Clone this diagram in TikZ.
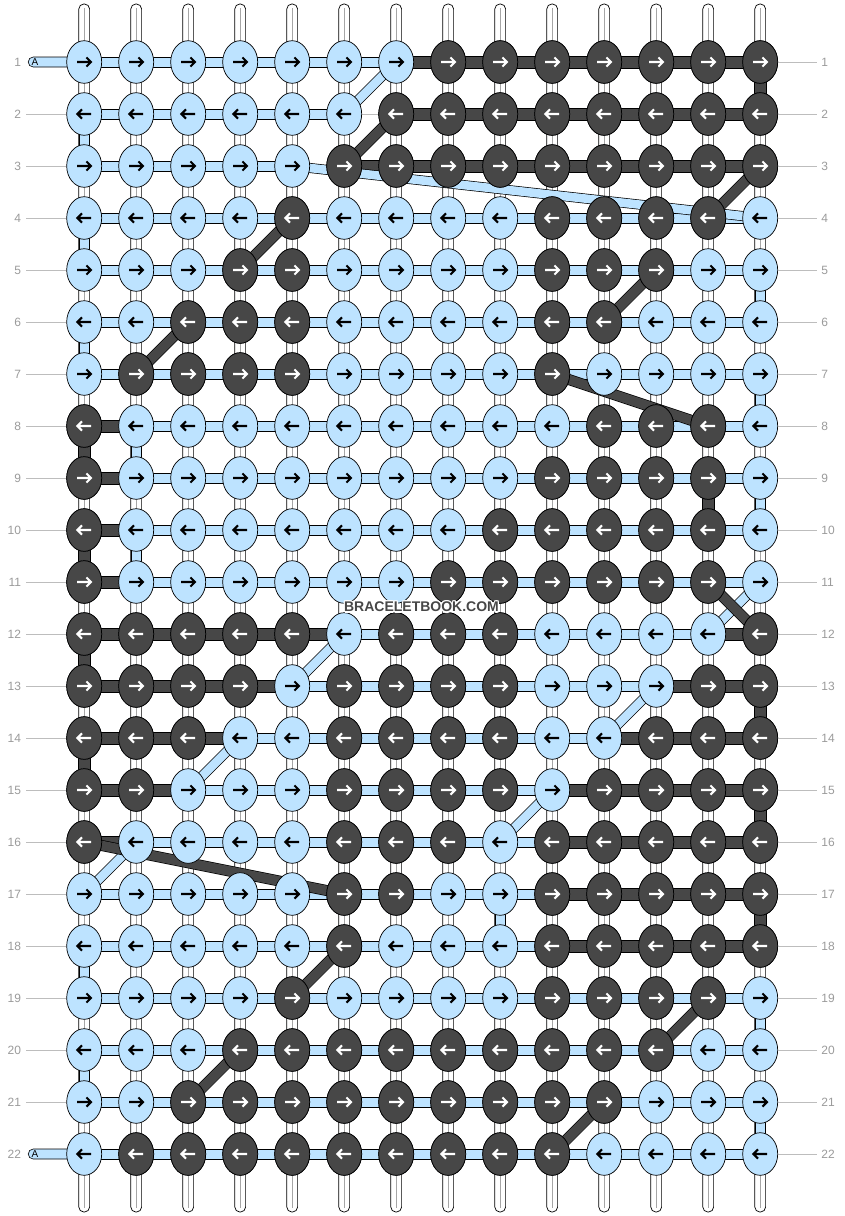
\documentclass[tikz,border=0pt]{standalone}
\usepackage{fontspec}
\setmainfont{Liberation Sans}
\usetikzlibrary{calc,shapes.geometric}
\definecolor{lb}{HTML}{BDE3FF}
\definecolor{dk}{HTML}{474747}
\definecolor{lbltxt}{HTML}{9B9B9B}
\definecolor{glin}{HTML}{BDBDBD}
\tikzset{
  ra/.pic={\draw[line width=2.1pt, line join=miter] (-7,0) -- (6,0) (2.2,-4.6) -- (6.8,0) -- (2.2,4.6);},
  la/.pic={\draw[line width=2.1pt, line join=miter] (7,0) -- (-6,0) (-2.2,-4.6) -- (-6.8,0) -- (-2.2,4.6);},
}
\begin{document}
\begin{tikzpicture}[x=1pt,y=-1pt,
  warp/.style={draw=black, line width=0.7pt, fill=white, rounded corners=5pt},
  lseg/.style={draw=black, line width=0.6pt, fill=lb},
  dseg/.style={draw=black, line width=0.6pt, fill=dk},
  knotL/.style={ellipse, draw=black, line width=0.7pt, fill=lb, minimum width=35pt, minimum height=42.6pt, inner sep=0pt},
  knotD/.style={knotL, fill=dk},
  gline/.style={draw=glin, line width=1pt},
  lab/.style={font=\fontsize{12}{12}\selectfont, text=lbltxt, inner sep=0pt},
  wmtext/.style={font=\bfseries\fontsize{14}{14}\selectfont, inner sep=0pt},
]
\useasboundingbox (0,0) rectangle (844,1216);
\fill[white] (0,0) rectangle (844,1216);

% knot positions
\foreach \r in {1,...,22} {
  \foreach \c in {1,...,14} {
    \coordinate (p-\r-\c) at ({84.2+52*(\c-1)},{62+52*(\r-1)});
  }
}

% warp strings
\foreach \c in {1,...,14} {
  \path[warp] ($(p-1-\c)+(-5.4,-58)$) rectangle ($(p-22-\c)+(5.4,58)$);
  \draw[black!35, line width=0.9pt] ($(p-1-\c)+(0,-54)$) -- ($(p-22-\c)+(0,54)$);
}

% light row segments
\foreach \r in {1,...,22} {
  \foreach \c in {1,...,13} {
    \pgfmathtruncatemacro\nc{\c+1}
    \pgfmathtruncatemacro\skp{and(\r==2,\c==6)+and(\r==3,\c==5)}
    \ifnum\skp=0
      \path[lseg] ($(p-\r-\c)+(0,-5.2)$) rectangle ($(p-\r-\nc)+(0,5.2)$);
    \fi
  }
}
\draw[gline] (p-2-6) -- (p-2-7);

% dark row segments
\foreach \r/\cs in {1/{7,...,13},2/{7,...,13},3/{6,...,13},8/{1},9/{1},10/{1},11/{1},
  12/{1,2,3,4,5,13},13/{1,2,3,4,12,13},14/{1,2,3,11,12,13},15/{1,2,10,11,12,13},
  16/{1,10,11,12,13},17/{10,11,12,13},18/{10,11,12,13}} {
  \foreach \c in \cs {
    \pgfmathtruncatemacro\nc{\c+1}
    \path[dseg] ($(p-\r-\c)+(0,-6)$) rectangle ($(p-\r-\nc)+(0,6)$);
  }
}

% vertical connectors
\foreach \c/\r in {1/2,1/4,1/6,1/18,1/20,2/8,2/10,14/5,14/7,14/9,14/19,14/21,9/17} {
  \pgfmathtruncatemacro\nr{\r+1}
  \path[lseg] ($(p-\r-\c)+(-5.4,0)$) rectangle ($(p-\nr-\c)+(5.4,0)$);
}
\foreach \c/\r in {1/8,1/10,1/12,1/14,14/1,14/13,14/15,14/17,13/9} {
  \pgfmathtruncatemacro\nr{\r+1}
  \path[dseg] ($(p-\r-\c)+(-5.6,0)$) rectangle ($(p-\nr-\c)+(5.6,0)$);
}

% diagonals
\foreach \a/\b in {1-7/2-6,3-5/4-14,11-14/12-13,12-6/13-5,13-12/14-11,14-4/15-3,15-10/16-9,16-2/17-1} {
  \draw[black, line width=10pt] (p-\a) -- (p-\b);
  \draw[lb, line width=8.6pt] (p-\a) -- (p-\b);
}
\foreach \a/\b in {2-7/3-6,3-14/4-13,4-5/5-4,5-12/6-11,6-3/7-2,7-10/8-13,11-13/12-14,16-1/17-6,18-6/19-5,19-13/20-12,20-4/21-3,21-11/22-10} {
  \draw[black, line width=11pt] (p-\a) -- (p-\b);
  \draw[dk, line width=9.6pt] (p-\a) -- (p-\b);
}

% start markers
\foreach \r in {1,22} {
  \draw[fill=lb, line width=0.6pt] ($(p-\r-1)+(-17,-5)$) -- ($(p-\r-1)+(-51,-5)$)
     arc[start angle=270, end angle=90, radius=5] -- ($(p-\r-1)+(-17,5)$);
  \node[font=\fontsize{10}{10}\selectfont, text=black, inner sep=0pt] (am-\r) at ($(p-\r-1)+(-49.2,0.3)$) {A};
}

% knots
\foreach \r in {1,...,22} {
  \pgfmathtruncatemacro\odd{mod(\r,2)}
  \foreach \c in {1,...,14} {
    \node[knotL] (k-\r-\c) at (p-\r-\c) {};
    \ifnum\odd=1 \pic[black] at (p-\r-\c) {ra}; \else \pic[black] at (p-\r-\c) {la}; \fi
  }
}
\foreach \r/\cs in {1/{8,...,14},2/{7,...,14},3/{6,...,14},4/{5,10,11,12,13},5/{4,5,10,11,12},
  6/{3,4,5,10,11},7/{2,3,4,5,10},8/{1,11,12,13},9/{1,10,11,12,13},10/{1,9,10,11,12,13},
  11/{1,8,9,10,11,12,13},12/{1,2,3,4,5,7,8,9,14},13/{1,2,3,4,6,7,8,9,13,14},
  14/{1,2,3,6,7,8,9,12,13,14},15/{1,2,6,7,8,9,11,12,13,14},16/{1,6,7,8,10,11,12,13,14},
  17/{6,7,10,11,12,13,14},18/{6,10,11,12,13,14},19/{5,10,11,12,13},20/{4,5,6,7,8,9,10,11,12},
  21/{3,4,5,6,7,8,9,10,11},22/{2,3,4,5,6,7,8,9,10}} {
  \pgfmathtruncatemacro\odd{mod(\r,2)}
  \foreach \c in \cs {
    \node[knotD] (k-\r-\c) at (p-\r-\c) {};
    \ifnum\odd=1 \pic[white] at (p-\r-\c) {ra}; \else \pic[white] at (p-\r-\c) {la}; \fi
  }
}

% row labels and guide lines
\foreach \r in {1,...,22} {
  \coordinate (re-\r) at ($(p-\r-14)+(57,0)$);
  \draw[gline] (k-\r-14.east) -- (re-\r);
  \node[lab, anchor=west] (rn-\r) at ($(p-\r-14)+(61,0)$) {\r};
  \node[lab, anchor=east] (ln-\r) at ($(p-\r-1)+(-63,0)$) {\r};
}
\foreach \r in {2,...,21} {
  \coordinate (le-\r) at ($(p-\r-1)+(-58,0)$);
  \draw[gline] (le-\r) -- (k-\r-1.west);
}

% watermark
\foreach \dx/\dy in {-1.2/0,1.2/0,0/-1.2,0/1.2,-0.9/-0.9,0.9/0.9,-0.9/0.9,0.9/-0.9} {
  \node[wmtext, text=white] at (421.5+\dx,607+\dy) {BRACELETBOOK.COM};
}
\node[wmtext, text=dk] (wm) at (421.5,607) {BRACELETBOOK.COM};
\end{tikzpicture}
\end{document}
